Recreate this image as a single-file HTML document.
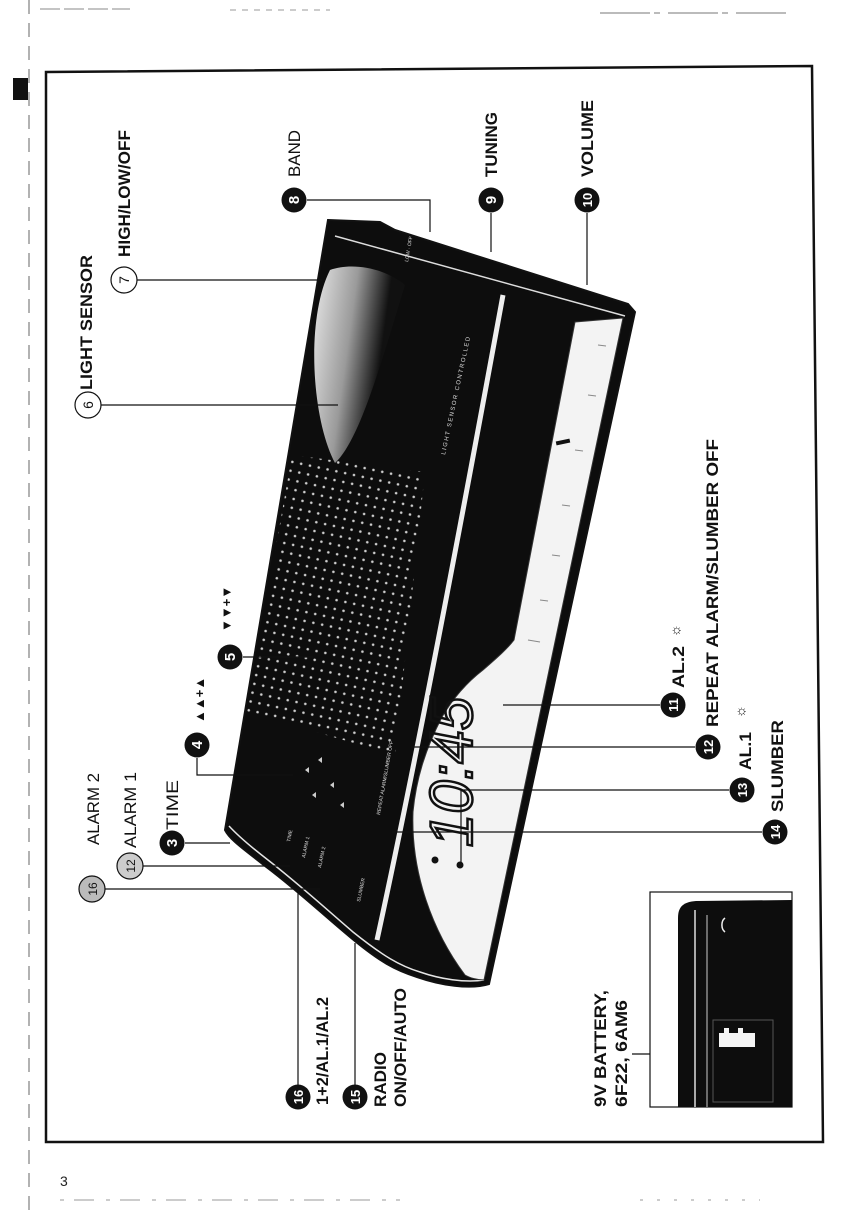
<!DOCTYPE html>
<html><head><meta charset="utf-8"><style>
html,body{margin:0;padding:0;background:#fff;}
svg{display:block;}
text{font-family:"Liberation Sans",sans-serif;}
</style></head><body>
<svg width="854" height="1216" viewBox="0 0 854 1216" xmlns="http://www.w3.org/2000/svg">
<defs>
<pattern id="dots" width="9" height="9" patternUnits="userSpaceOnUse" patternTransform="rotate(12)">
<circle cx="4" cy="4" r="1.3" fill="#cfcfcf"/></pattern>
<linearGradient id="sens" x1="0" y1="0" x2="1" y2="0.3">
<stop offset="0" stop-color="#e8e8e8"/><stop offset="0.45" stop-color="#9a9a9a"/><stop offset="0.8" stop-color="#111"/></linearGradient>
<clipPath id="bodyclip"><path d="M328,220 L380,222 L395,230 L628,304 L635,312 L489,984 C470,990 440,985 417,977 C395,970 380,962 350,937 C320,912 297,890 265,866 C245,850 230,840 225,830 Z"/></clipPath>
</defs>

<!-- page marks -->
<line x1="29" y1="0" x2="29" y2="1216" stroke="#666" stroke-width="1" stroke-dasharray="14 9"/>
<rect x="13" y="78" width="15" height="22" fill="#111"/>
<line x1="40" y1="9" x2="130" y2="9" stroke="#888" stroke-dasharray="20 4"/>
<line x1="230" y1="10" x2="330" y2="10" stroke="#999" stroke-dasharray="6 6"/>
<line x1="600" y1="13" x2="790" y2="13" stroke="#777" stroke-dasharray="50 4 6 8"/>
<line x1="60" y1="1200" x2="400" y2="1200" stroke="#999" stroke-dasharray="4 10 20 12"/>
<line x1="640" y1="1200" x2="760" y2="1200" stroke="#999" stroke-dasharray="3 14"/>
<text x="60" y="1186" font-size="14" fill="#222">3</text>

<!-- frame -->
<path d="M46,72 L812,66 L823,1142 L46,1142 Z" fill="none" stroke="#111" stroke-width="2.5"/>

<!-- radio body -->
<path d="M328,220 L380,222 L395,230 L628,304 L635,312 L489,984 C470,990 440,985 417,977 C395,970 380,962 350,937 C320,912 297,890 265,866 C245,850 230,840 225,830 Z" fill="#0d0d0d" stroke="#111" stroke-width="2"/>
<g clip-path="url(#bodyclip)">
<line x1="335" y1="236" x2="625" y2="316" stroke="#ddd" stroke-width="1.5"/>
<path d="M229,826 C240,838 255,850 268,860 C300,885 325,908 353,932 C383,956 400,966 420,972 C440,979 465,983 484,980" fill="none" stroke="#e5e5e5" stroke-width="1.5"/>
<!-- speaker grille -->
<path d="M292,455 L425,472 L395,755 L247,712 Z" fill="url(#dots)"/>
<!-- light sensor -->
<path d="M330,270 C305,320 312,420 335,463 C360,440 382,360 405,285 C385,268 352,262 330,270 Z" fill="url(#sens)"/>
<!-- white stripe -->
<path d="M503,295 C480,420 425,720 377,940" fill="none" stroke="#eee" stroke-width="5"/>
<!-- display panel -->
<path d="M575,322 L623,318 L484,980 C478,980 470,978 465,975 C450,955 436,930 426,900 C416,870 412,840 413,812 C416,780 425,750 442,717 C455,695 470,680 483,670 C498,657 508,648 514,640 Z" fill="#f3f3f3" stroke="#333" stroke-width="1"/>
<rect x="556" y="440" width="14" height="4" fill="#111" transform="rotate(-12 563 442)"/>
<g stroke="#888" stroke-width="1">
<line x1="598" y1="345" x2="606" y2="346"/><line x1="588" y1="395" x2="596" y2="396"/>
<line x1="575" y1="450" x2="583" y2="451"/><line x1="562" y1="505" x2="570" y2="506"/>
<line x1="552" y1="555" x2="560" y2="556"/><line x1="540" y1="600" x2="548" y2="601"/>
<line x1="528" y1="640" x2="540" y2="642"/>
</g>
<!-- clock digits -->
<text transform="translate(472,772) rotate(-90)" text-anchor="middle" font-size="60" font-style="italic" fill="none" stroke="#111" stroke-width="2.5">10:45</text>
<circle cx="435" cy="860" r="3.5" fill="#111"/><circle cx="460" cy="865" r="3.5" fill="#111"/>
<!-- tiny labels on radio -->
<text transform="translate(445,455) rotate(-78)" font-size="6" fill="#ddd" letter-spacing="1.5">LIGHT SENSOR CONTROLLED</text>
<text transform="translate(408,262) rotate(-80)" font-size="5" fill="#ddd">LOW · OFF · HIGH</text>
<text transform="translate(380,815) rotate(-80)" font-size="5" fill="#ddd">REPEAT ALARM/SLUMBER OFF</text>
<text transform="translate(290,842) rotate(-78)" font-size="5" fill="#ddd">TIME</text>
<text transform="translate(305,858) rotate(-78)" font-size="5" fill="#ddd">ALARM 1</text>
<text transform="translate(321,868) rotate(-78)" font-size="5" fill="#ddd">ALARM 2</text>
<text transform="translate(360,902) rotate(-78)" font-size="5" fill="#ddd">SLUMBER</text>
<g fill="#ccc"><path d="M305,770 l4,-3 l0,6z"/><path d="M318,760 l4,-3 l0,6z"/><path d="M312,795 l4,-3 l0,6z"/><path d="M330,785 l4,-3 l0,6z"/><path d="M340,805 l4,-3 l0,6z"/></g>
</g>

<!-- leaders -->
<g stroke="#111" stroke-width="1.2" fill="none">
<path d="M101,405 H338"/><path d="M137,280 H322"/>
<path d="M307,200 H430 V232"/><path d="M491,213 V252"/><path d="M587,213 V285"/>
<path d="M243,657 H313"/><path d="M197,758 V775 H293"/><path d="M185,843 H230"/>
<path d="M143,866 H290"/><path d="M105,889 H320"/>
<path d="M660,705 H503"/><path d="M695,747 H411"/><path d="M729,790 H461 V862"/><path d="M762,832 H392"/>
<path d="M298,1085 V889"/><path d="M355,1085 V943"/>
<path d="M632,1054 H713"/>
</g>

<!-- circles -->
<g font-weight="bold" text-anchor="middle">
<g fill="#111">
<circle cx="172" cy="843" r="12.5"/><circle cx="197" cy="745" r="12.5"/><circle cx="230" cy="657" r="12.5"/>
<circle cx="294" cy="200" r="12.5"/><circle cx="491" cy="200" r="12.5"/><circle cx="587" cy="200" r="12.5"/>
<circle cx="673" cy="705" r="12.5"/><circle cx="708" cy="747" r="12.5"/><circle cx="742" cy="790" r="12.5"/><circle cx="775" cy="832" r="12.5"/>
<circle cx="355" cy="1097" r="12.5"/><circle cx="298" cy="1097" r="12.5"/>
</g>
<g fill="#fff" font-size="15">
<text transform="translate(177,843) rotate(-90)">3</text>
<text transform="translate(202,745) rotate(-90)">4</text>
<text transform="translate(235,657) rotate(-90)">5</text>
<text transform="translate(299,200) rotate(-90)">8</text>
<text transform="translate(496,200) rotate(-90)">9</text>
<text transform="translate(592,200) rotate(-90)" font-size="13">10</text>
<text transform="translate(678,705) rotate(-90)" font-size="13">11</text>
<text transform="translate(713,747) rotate(-90)" font-size="13">12</text>
<text transform="translate(747,790) rotate(-90)" font-size="13">13</text>
<text transform="translate(780,832) rotate(-90)" font-size="13">14</text>
<text transform="translate(360,1097) rotate(-90)" font-size="13">15</text>
<text transform="translate(303,1097) rotate(-90)" font-size="13">16</text>
</g>
<g fill="#fff" stroke="#111" stroke-width="1.2">
<circle cx="88" cy="405" r="13"/><circle cx="124" cy="280" r="13"/>
<circle cx="130" cy="866" r="13" fill="#ccc"/><circle cx="92" cy="889" r="13" fill="#bbb"/>
</g>
<g fill="#111" font-size="14" font-weight="normal">
<text transform="translate(93,405) rotate(-90)">6</text>
<text transform="translate(129,280) rotate(-90)">7</text>
<text transform="translate(135,866) rotate(-90)" font-size="12">12</text>
<text transform="translate(97,889) rotate(-90)" font-size="12">16</text>
</g>
</g>

<!-- labels -->
<g font-weight="bold" fill="#111" font-size="17">
<text transform="translate(92,390) rotate(-90)" textLength="135" lengthAdjust="spacingAndGlyphs">LIGHT SENSOR</text>
<text transform="translate(130,257) rotate(-90)" textLength="127" lengthAdjust="spacingAndGlyphs">HIGH/LOW/OFF</text>
<text transform="translate(300,177) rotate(-90)" textLength="47" lengthAdjust="spacingAndGlyphs" font-weight="normal">BAND</text>
<text transform="translate(497,177) rotate(-90)" textLength="65" lengthAdjust="spacingAndGlyphs">TUNING</text>
<text transform="translate(593,177) rotate(-90)" textLength="77" lengthAdjust="spacingAndGlyphs">VOLUME</text>
<text transform="translate(99,845) rotate(-90)" textLength="72" lengthAdjust="spacingAndGlyphs" font-weight="normal">ALARM 2</text>
<text transform="translate(136,848) rotate(-90)" textLength="76" lengthAdjust="spacingAndGlyphs" font-weight="normal">ALARM 1</text>
<text transform="translate(178,830) rotate(-90)" textLength="50" lengthAdjust="spacingAndGlyphs" font-weight="normal">TIME</text>
<text transform="translate(204,723) rotate(-90)" font-size="13">▲▲+▲</text>
<text transform="translate(231,632) rotate(-90)" font-size="13">▼▼+▼</text>
<text transform="translate(684,688) rotate(-90)" textLength="42" lengthAdjust="spacingAndGlyphs">AL.2</text>
<text transform="translate(680,637) rotate(-90)" font-size="14" font-weight="normal">☼</text>
<text transform="translate(718,727) rotate(-90)" textLength="288" lengthAdjust="spacingAndGlyphs">REPEAT ALARM/SLUMBER OFF</text>
<text transform="translate(751,770) rotate(-90)" textLength="38" lengthAdjust="spacingAndGlyphs">AL.1</text>
<text transform="translate(745,718) rotate(-90)" font-size="14" font-weight="normal">☼</text>
<text transform="translate(783,812) rotate(-90)" textLength="92" lengthAdjust="spacingAndGlyphs">SLUMBER</text>
<text transform="translate(328,1105) rotate(-90)" textLength="108" lengthAdjust="spacingAndGlyphs">1+2/AL.1/AL.2</text>
<text transform="translate(386,1107) rotate(-90)" textLength="55" lengthAdjust="spacingAndGlyphs">RADIO</text>
<text transform="translate(406,1107) rotate(-90)" textLength="119" lengthAdjust="spacingAndGlyphs">ON/OFF/AUTO</text>
<text transform="translate(606,1107) rotate(-90)" textLength="117" lengthAdjust="spacingAndGlyphs">9V BATTERY,</text>
<text transform="translate(627,1107) rotate(-90)" textLength="107" lengthAdjust="spacingAndGlyphs">6F22, 6AM6</text>
</g>

<!-- battery inset -->
<rect x="650" y="892" width="142" height="215" fill="#fff" stroke="#111" stroke-width="1.2"/>
<path d="M678,1107 V918 C678,906 684,902 696,901 L792,900 V1107 Z" fill="#0d0d0d"/>
<line x1="695" y1="910" x2="695" y2="1107" stroke="#ddd" stroke-width="1.5"/>
<line x1="707" y1="915" x2="707" y2="1107" stroke="#ccc" stroke-width="1"/>
<path d="M725,918 a6,8 0 0 0 0,14" fill="none" stroke="#eee" stroke-width="1.5"/>
<rect x="713" y="1020" width="60" height="82" fill="none" stroke="#555" stroke-width="1"/>
<rect x="719" y="1033" width="36" height="14" fill="#f4f4f4"/>
<rect x="724" y="1028" width="5" height="5" fill="#f4f4f4"/><rect x="738" y="1028" width="5" height="5" fill="#f4f4f4"/>
</svg>
</body></html>
